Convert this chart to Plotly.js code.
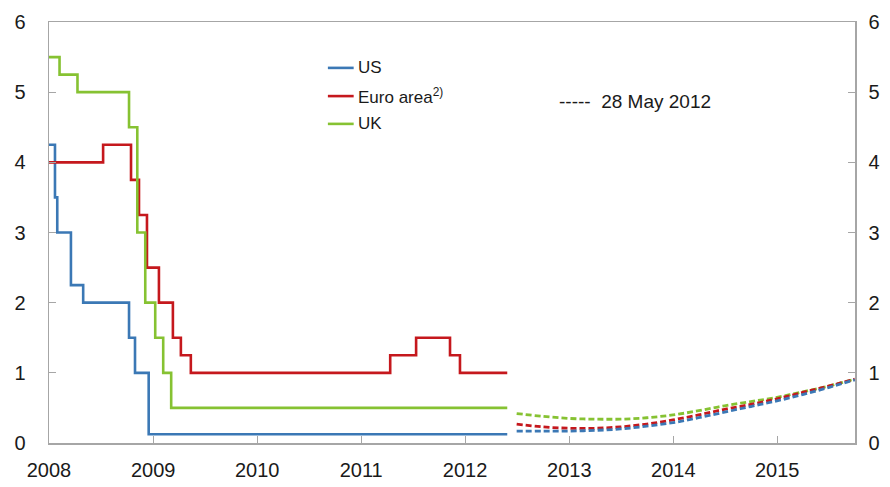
<!DOCTYPE html>
<html>
<head>
<meta charset="utf-8">
<script src="https://cdn.plot.ly/plotly-3.0.1.min.js"></script>
<style>html,body{margin:0;padding:0;background:#fff;}#chart{width:890px;height:487px;}</style>
</head>
<body>
<div id="chart"></div>
<script>
// Policy rates (step series)
const usDates = ['2008-01-01','2008-01-22','2008-01-30','2008-03-18','2008-04-30','2008-10-08','2008-10-29','2008-12-16','2012-05-28'];
const usRates = [4.25, 3.5, 3.0, 2.25, 2.0, 1.5, 1.0, 0.125, 0.125];

const euDates = ['2008-01-01','2008-07-09','2008-10-15','2008-11-12','2008-12-10','2009-01-21','2009-03-11','2009-04-08','2009-05-13','2011-04-13','2011-07-13','2011-11-09','2011-12-14','2012-05-28'];
const euRates = [4.0, 4.25, 3.75, 3.25, 2.5, 2.0, 1.5, 1.25, 1.0, 1.25, 1.5, 1.25, 1.0, 1.0];

const ukDates = ['2008-01-01','2008-02-07','2008-04-10','2008-10-08','2008-11-06','2008-12-04','2009-01-08','2009-02-05','2009-03-05','2012-05-28'];
const ukRates = [5.5, 5.25, 5.0, 4.5, 3.0, 2.0, 1.5, 1.0, 0.5, 0.5];

// Market forward rates as of 28 May 2012
const fwdDates = ['2012-06-30','2012-09-30','2012-12-31','2013-03-31','2013-06-30','2013-09-30','2013-12-31','2014-03-31','2014-06-30','2014-09-30','2014-12-31','2015-03-31','2015-06-30','2015-09-30'];
const ukFwd = [0.42, 0.38, 0.35, 0.34, 0.34, 0.36, 0.40, 0.46, 0.53, 0.59, 0.65, 0.73, 0.81, 0.91];
const euFwd = [0.27, 0.23, 0.21, 0.21, 0.23, 0.27, 0.33, 0.40, 0.48, 0.55, 0.63, 0.72, 0.81, 0.91];
const usFwd = [0.17, 0.17, 0.17, 0.18, 0.20, 0.24, 0.29, 0.36, 0.44, 0.52, 0.60, 0.69, 0.79, 0.90];

const seriesNames = ['US', 'Euro area<sup>2)</sup>', 'UK'];
const forwardLabel = '-----&nbsp;&nbsp;28 May 2012';
const yTicks = [0, 1, 2, 3, 4, 5, 6];
const yearTicks = ['2008-01-01','2009-01-01','2010-01-01','2011-01-01','2012-01-01','2013-01-01','2014-01-01','2015-01-01'];
const yearLabels = ['2008','2009','2010','2011','2012','2013','2014','2015'];

const cUS = '#3b78b5', cEU = '#c5181d', cUK = '#86c232';
const FONT = 'Liberation Sans, Arial, sans-serif';

const step = (x, y, c) => ({x, y, type: 'scatter', mode: 'lines', line: {shape: 'hv', color: c, width: 2.6}, showlegend: false, hoverinfo: 'skip'});
const fwd = (x, y, c) => ({x, y, type: 'scatter', mode: 'lines', yaxis: 'y2', line: {shape: 'spline', color: c, width: 2.8, dash: '6px,3px'}, showlegend: false, hoverinfo: 'skip'});

const data = [
  step(usDates, usRates, cUS),
  step(euDates, euRates, cEU),
  step(ukDates, ukRates, cUK),
  fwd(fwdDates, ukFwd, cUK),
  fwd(fwdDates, euFwd, cEU),
  fwd(fwdDates, usFwd, cUS)
];

const axisCol = '#a6a6a6';
const txtCol = '#1a1a1a';
const legendY = [0.891, 0.824, 0.758];
const legendCols = [cUS, cEU, cUK];
const shapes = legendCols.map((c, i) => ({type: 'line', xref: 'paper', yref: 'paper', x0: 0.346, x1: 0.378, y0: legendY[i], y1: legendY[i], line: {color: c, width: 2.6}}));
const annotations = seriesNames.map((t, i) => ({xref: 'paper', yref: 'paper', x: 0.381, y: legendY[i], xanchor: 'left', yanchor: 'middle', text: t, showarrow: false, font: {family: FONT, size: 17, color: txtCol}}));
annotations.push({xref: 'paper', yref: 'paper', x: 0.630, y: 0.812, xanchor: 'left', yanchor: 'middle', text: forwardLabel, showarrow: false, font: {family: FONT, size: 19, color: txtCol}});

const tickFont = {family: FONT, size: 20, color: txtCol};

const layout = {
  width: 890, height: 487,
  margin: {l: 49, r: 35, t: 22, b: 44},
  paper_bgcolor: '#fff', plot_bgcolor: '#fff',
  font: {family: FONT, size: 18, color: txtCol},
  showlegend: false,
  xaxis: {
    type: 'date', range: ['2008-01-01', '2015-10-01'],
    tickvals: yearTicks, ticktext: yearLabels,
    ticks: 'inside', ticklen: 7, tickcolor: axisCol, tickwidth: 1.2,
    showline: true, linecolor: axisCol, linewidth: 1.5, mirror: true,
    showgrid: false, zeroline: false, ticklabelstandoff: 8,
    tickfont: tickFont
  },
  yaxis: {
    range: [0, 6], tickvals: yTicks, ticks: 'inside', ticklen: 7, tickcolor: axisCol, tickwidth: 1.2,
    showline: true, linecolor: axisCol, linewidth: 1.5, mirror: true,
    showgrid: false, zeroline: false, ticklabelstandoff: 18,
    tickfont: tickFont
  },
  yaxis2: {
    range: [0, 6], tickvals: yTicks, overlaying: 'y', side: 'right', anchor: 'x',
    ticks: 'inside', ticklen: 7, tickcolor: axisCol, tickwidth: 1.2,
    showline: true, linecolor: axisCol, linewidth: 1.5,
    showgrid: false, zeroline: false, ticklabelstandoff: 8,
    tickfont: tickFont
  },
  shapes, annotations
};

Plotly.newPlot('chart', data, layout, {staticPlot: true, displayModeBar: false});
</script>
</body>
</html>
